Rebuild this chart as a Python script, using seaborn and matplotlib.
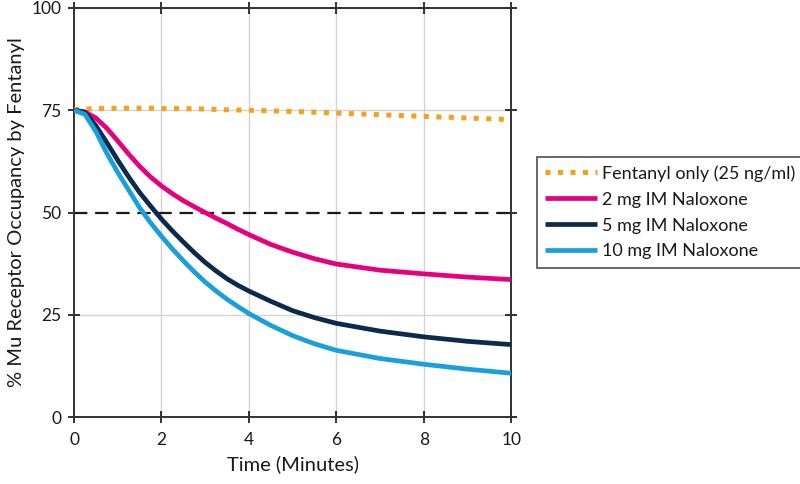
import matplotlib
matplotlib.use("Agg")
import matplotlib.pyplot as plt
import seaborn as sns
import pandas as pd

time = [0, 0.25, 0.5, 0.75, 1, 1.25, 1.5, 1.75, 2, 2.25, 2.5, 2.75, 3, 3.25, 3.5, 3.75,
        4, 4.5, 5, 5.5, 6, 7, 8, 9, 10]
fentanyl = [75.2, 75.3, 75.4, 75.4, 75.5, 75.5, 75.5, 75.5, 75.4, 75.4, 75.4, 75.35, 75.3, 75.2,
            75.1, 75.05, 75.0, 74.85, 74.7, 74.5, 74.3, 73.9, 73.5, 73.1, 72.7]
nalox_2mg = [75.0, 74.6, 73.1, 70.6, 67.5, 64.3, 61.3, 58.7, 56.5, 54.6, 52.9, 51.4, 50.0, 48.6,
             47.3, 45.9, 44.6, 42.2, 40.3, 38.7, 37.4, 35.9, 35.0, 34.2, 33.6]
nalox_5mg = [75.0, 74.5, 71.2, 67.1, 62.8, 58.7, 54.9, 51.6, 48.4, 45.5, 42.8, 40.2, 37.8, 35.7,
             33.8, 32.2, 30.8, 28.3, 26.0, 24.3, 22.9, 21.0, 19.6, 18.5, 17.7]
nalox_10mg = [75.0, 74.0, 69.8, 64.5, 59.8, 55.5, 51.2, 47.5, 44.2, 41.1, 38.2, 35.5, 33.0, 30.8,
              28.8, 27.0, 25.3, 22.4, 19.9, 17.9, 16.3, 14.3, 12.9, 11.7, 10.7]
labels = ["Fentanyl only (25 ng/ml)", "2 mg IM Naloxone", "5 mg IM Naloxone", "10 mg IM Naloxone"]
colors = ["#F7A11A", "#E6007E", "#0B2A4E", "#19A0DC"]
x_ticks = [0, 2, 4, 6, 8, 10]
y_ticks = [0, 25, 50, 75, 100]

sns.set_theme(style="white")
plt.rcParams["font.family"] = ["Lato", "DejaVu Sans"]

fig = plt.figure(figsize=(8, 4.84), dpi=100)
ax = fig.add_axes([0.0925, 0.1384, 0.5465, 0.8451])

for v in x_ticks[1:-1]:
    ax.axvline(v, color="#d4d4d4", lw=1, zorder=0)
for v in [25, 75, 100]:
    ax.axhline(v, color="#d4d4d4", lw=1, zorder=0)
ax.axhline(50, color="#1a1a1a", lw=1.6, dashes=(6, 3.5), zorder=1)

series = [fentanyl, nalox_2mg, nalox_5mg, nalox_10mg]
for i, (vals, lab, col) in enumerate(zip(series, labels, colors)):
    df = pd.DataFrame({"t": time, "v": vals})
    sns.lineplot(data=df, x="t", y="v", ax=ax, color=col,
                 lw=3.6 if i == 0 else 3.4, label=lab, zorder=3)
    ln = ax.lines[-1]
    if i == 0:
        ln.set_dashes((1, 1.5))
        ln.set_dash_capstyle("butt")
    else:
        ln.set_solid_capstyle("butt")
        ln.set_solid_joinstyle("round")

ax.set_xlim(0, 10)
ax.set_ylim(0, 100)
ax.set_xticks(x_ticks)
ax.set_yticks(y_ticks)
ax.set_xticklabels([str(t) for t in x_ticks])
ax.set_yticklabels([str(t) for t in y_ticks])
ax.tick_params(axis="both", which="both", direction="inout", length=8, width=1.3,
               color="#222222", labelsize=12.5, labelcolor="#1a1a1a",
               top=True, right=True, bottom=True, left=True, pad=5)
ax.tick_params(axis="x", pad=7)
for s in ax.spines.values():
    s.set_color("#333333")
    s.set_linewidth(1.4)
    s.set_visible(True)

ax.set_xlabel("Time (Minutes)", fontsize=14.5, color="#1a1a1a", labelpad=5)
ax.set_ylabel("% Mu Receptor Occupancy by Fentanyl", fontsize=14.5, color="#1a1a1a", labelpad=5)

leg = ax.legend(loc="upper left", bbox_to_anchor=(537 / 800, 1 - 157 / 484),
                bbox_transform=fig.transFigure, frameon=True, fancybox=False,
                fontsize=13, handlelength=2.9, handletextpad=0.25,
                borderpad=0.45, labelspacing=0.55, borderaxespad=0)
leg.get_frame().set_edgecolor("#333333")
leg.get_frame().set_linewidth(1.3)
for t in leg.get_texts():
    t.set_color("#1a1a1a")

fig.savefig("out.png", dpi=100)
